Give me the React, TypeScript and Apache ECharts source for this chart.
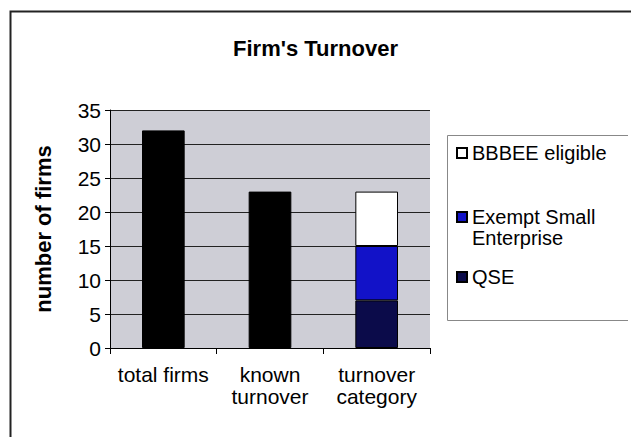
import React, { useEffect, useRef } from "react";
import * as echarts from "echarts";

const categories = ["total firms", "known\nturnover", "turnover\ncategory"];
const firmCounts: (number | string)[] = [32, 23, "-"];
const qse: (number | string)[] = ["-", "-", 7];
const exemptSmall: (number | string)[] = ["-", "-", 8];
const bbbeeEligible: (number | string)[] = ["-", "-", 8];
const yTicks = { min: 0, max: 35, interval: 5 };

const FONT = "'Liberation Sans', Arial, Helvetica, sans-serif";

export default function App() {
  const ref = useRef<HTMLDivElement>(null);
  useEffect(() => {
    if (!ref.current) return;
    const chart = echarts.init(ref.current, undefined, { renderer: "svg" });
    const legendText = { fontFamily: FONT, fontSize: 20, color: "#000", lineHeight: 21 };
    chart.setOption({
      animation: false,
      backgroundColor: "#fff",
      textStyle: { fontFamily: FONT },
      title: {
        text: "Firm's Turnover",
        left: "center",
        top: 32,
        textStyle: { fontFamily: FONT, fontSize: 22, fontWeight: "bold", color: "#000" },
      },
      graphic: [
        {
          type: "rect",
          shape: { x: 10.5, y: 11.5, width: 700, height: 500 },
          style: { fill: "none", stroke: "#222", lineWidth: 2 },
          silent: true,
        },
        {
          type: "polyline",
          shape: { points: [[628, 135.5], [447.5, 135.5], [447.5, 320.5], [628, 320.5]] },
          style: { fill: "none", stroke: "#888", lineWidth: 1 },
          silent: true,
        },
      ],
      legend: [
        {
          data: ["BBBEE eligible"],
          left: 456,
          top: 142.5,
          padding: 0,
          itemWidth: 10,
          itemHeight: 10,
          icon: "rect",
          textStyle: legendText,
        },
        {
          data: ["Exempt Small Enterprise"],
          left: 456,
          top: 185.5,
          padding: 0,
          itemWidth: 10,
          itemHeight: 10,
          icon: "rect",
          formatter: () => " \nExempt Small\nEnterprise",
          textStyle: legendText,
        },
        {
          data: ["QSE"],
          left: 456,
          top: 266.5,
          padding: 0,
          itemWidth: 10,
          itemHeight: 10,
          icon: "rect",
          textStyle: legendText,
        },
      ],
      grid: {
        left: 110,
        right: 201,
        top: 110,
        bottom: 89,
        show: true,
        backgroundColor: "#ceced6",
        borderWidth: 0,
      },
      xAxis: {
        type: "category",
        data: categories,
        axisLine: { show: true, lineStyle: { color: "#000", width: 1 } },
        axisTick: { show: true, alignWithLabel: false, length: 6, lineStyle: { color: "#000" } },
        axisLabel: {
          fontFamily: FONT,
          fontSize: 21,
          color: "#000",
          lineHeight: 22,
          margin: 15,
          interval: 0,
        },
        splitLine: { show: false },
      },
      yAxis: {
        type: "value",
        min: yTicks.min,
        max: yTicks.max,
        interval: yTicks.interval,
        name: "number of firms",
        nameLocation: "middle",
        nameGap: 56,
        nameTextStyle: { fontFamily: FONT, fontSize: 22, fontWeight: "bold", color: "#000" },
        axisLine: { show: true, lineStyle: { color: "#000", width: 1 } },
        axisTick: { show: true, length: 5, lineStyle: { color: "#000" } },
        axisLabel: { fontFamily: FONT, fontSize: 21, color: "#000", margin: 9 },
        splitLine: { show: true, lineStyle: { color: "#222", width: 1 } },
      },
      series: [
        {
          name: "firms",
          type: "bar",
          stack: "a",
          data: firmCounts,
          barWidth: "40%",
          itemStyle: { color: "#000", borderColor: "#000", borderWidth: 1 },
        },
        {
          name: "QSE",
          type: "bar",
          stack: "a",
          data: qse,
          itemStyle: { color: "#0b0b4a", borderColor: "#000", borderWidth: 1 },
        },
        {
          name: "Exempt Small Enterprise",
          type: "bar",
          stack: "a",
          data: exemptSmall,
          itemStyle: { color: "#1212c8", borderColor: "#000", borderWidth: 1 },
        },
        {
          name: "BBBEE eligible",
          type: "bar",
          stack: "a",
          data: bbbeeEligible,
          itemStyle: { color: "#ffffff", borderColor: "#000", borderWidth: 1 },
        },
      ],
    });
    return () => chart.dispose();
  }, []);
  return (
    <div
      ref={ref}
      style={{ position: "absolute", left: 0, top: 0, width: 631, height: 437 }}
    />
  );
}
